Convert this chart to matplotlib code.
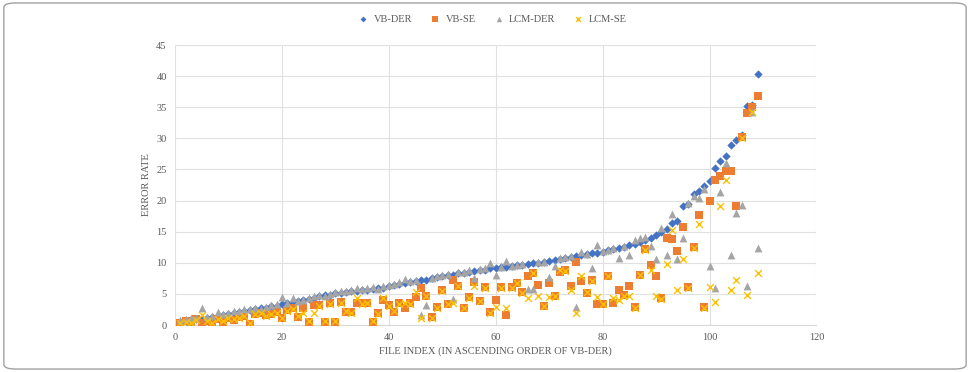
import matplotlib
matplotlib.use("Agg")
import matplotlib.pyplot as plt
from matplotlib.patches import FancyBboxPatch
import numpy as np

vb_der = [0.5, 0.6, 0.8, 0.9, 1.0, 1.2, 1.3, 1.4, 1.6, 1.8,
          1.9, 2.1, 2.2, 2.4, 2.5, 2.7, 2.8, 3.0, 3.1, 3.3,
          3.5, 3.6, 3.8, 4.0, 4.2, 4.4, 4.6, 4.8, 4.9, 5.1,
          5.2, 5.3, 5.4, 5.5, 5.6, 5.7, 5.8, 5.9, 6.0, 6.2,
          6.4, 6.6, 6.8, 6.9, 7.0, 7.2, 7.3, 7.5, 7.7, 7.8,
          8.0, 8.1, 8.3, 8.4, 8.6, 8.7, 8.8, 8.9, 9.1, 9.2,
          9.3, 9.4, 9.5, 9.6, 9.7, 9.8, 9.9, 10.0, 10.2, 10.3,
          10.5, 10.6, 10.8, 11.0, 11.1, 11.2, 11.4, 11.5, 11.6, 11.8,
          12.0, 12.2, 12.4, 12.6, 12.8, 13.0, 13.3, 13.6, 14.0, 14.5,
          15.0, 15.5, 16.4, 16.7, 19.1, 19.5, 21.0, 21.5, 22.3, 23.1,
          25.2, 26.3, 27.1, 28.9, 29.7, 30.5, 35.2, 35.4, 40.4]

vb_se = [0.3, 0.6, 0.2, 0.9, 0.4, 0.7, 0.3, 1.0, 0.5, 1.2,
         0.8, 1.3, 1.5, 0.2, 1.8, 2.0, 1.6, 1.7, 2.1, 1.1,
         2.4, 2.7, 1.3, 2.7, 0.5, 3.2, 3.2, 0.5, 3.5, 0.5,
         3.7, 2.1, 2.1, 3.5, 3.5, 3.5, 0.5, 1.9, 4.0, 3.2,
         2.1, 3.5, 2.7, 3.5, 4.5, 5.9, 4.7, 1.3, 2.9, 5.6,
         3.4, 7.2, 6.3, 2.7, 4.5, 6.9, 3.9, 6.1, 2.1, 4.0,
         6.1, 1.6, 6.1, 6.8, 5.3, 7.9, 8.4, 6.4, 3.1, 6.8,
         4.7, 8.5, 8.8, 6.3, 10.1, 7.1, 5.1, 7.2, 3.4, 3.4,
         7.9, 3.5, 5.6, 4.8, 6.3, 2.9, 8.0, 12.2, 9.6, 7.9,
         4.3, 14.0, 13.8, 11.9, 15.8, 6.1, 12.5, 17.7, 2.9, 19.9,
         23.3, 24.0, 24.8, 24.8, 19.1, 30.2, 34.1, 35.0, 36.8]

lcm_der = [0.8, 0.9, 1.2, 1.1, 2.8, 1.3, 1.5, 2.1, 1.7, 2.0,
           2.2, 2.3, 2.5, 2.6, 2.7, 2.6, 2.9, 3.2, 3.4, 4.5,
           3.6, 4.3, 3.9, 4.1, 4.4, 4.6, 4.9, 4.7, 5.0, 5.3,
           5.4, 5.5, 5.6, 5.9, 5.8, 5.9, 6.1, 5.8, 6.2, 6.4,
           6.6, 6.9, 7.4, 7.0, 7.2, 1.6, 3.2, 7.6, 7.8, 8.0,
           8.2, 4.2, 8.5, 8.6, 8.8, 7.6, 9.0, 9.2, 10.0, 8.0,
           9.4, 10.3, 9.5, 9.7, 9.8, 5.8, 5.8, 10.1, 10.2, 7.7,
           9.5, 10.8, 11.0, 11.1, 2.9, 11.7, 11.4, 9.2, 12.9, 11.9,
           12.1, 12.3, 10.8, 12.7, 11.3, 13.6, 14.0, 14.2, 12.7, 10.6,
           15.6, 11.3, 17.8, 10.6, 14.0, 19.6, 20.8, 20.4, 21.8, 9.5,
           5.9, 21.4, 26.0, 11.3, 18.0, 19.3, 6.3, 34.2, 12.4]

lcm_se = [0.4, 0.5, 0.3, 0.8, 1.6, 0.6, 0.4, 0.9, 0.6, 1.1,
          0.9, 1.2, 1.4, 0.3, 1.7, 1.9, 1.5, 1.8, 2.0, 1.2,
          2.3, 2.6, 1.4, 1.9, 0.6, 1.9, 3.1, 0.6, 3.4, 0.6,
          3.6, 2.2, 2.0, 4.3, 3.4, 3.6, 0.6, 1.8, 4.3, 3.1,
          2.2, 3.4, 3.5, 3.4, 5.3, 1.1, 4.6, 1.2, 2.8, 5.5,
          3.3, 3.5, 6.2, 2.8, 4.4, 6.2, 3.8, 6.0, 2.0, 2.9,
          6.0, 2.7, 6.0, 6.7, 5.2, 4.3, 8.3, 4.7, 3.0, 4.5,
          4.6, 8.8, 8.7, 5.6, 1.9, 7.9, 5.3, 7.1, 4.5, 3.3,
          7.8, 4.3, 4.0, 4.7, 4.7, 2.8, 8.0, 12.1, 8.8, 4.7,
          4.2, 9.8, 15.3, 5.6, 10.6, 6.0, 12.4, 16.2, 2.8, 6.1,
          3.7, 19.1, 23.3, 5.6, 7.3, 30.0, 4.8, 34.2, 8.4]

x_ticks = [0, 20, 40, 60, 80, 100, 120]
y_ticks = [0, 5, 10, 15, 20, 25, 30, 35, 40, 45]

idx = np.arange(1, len(vb_der) + 1)

plt.rcParams['font.family'] = ['Liberation Serif', 'DejaVu Serif']

fig = plt.figure(figsize=(9.70, 3.72), dpi=100)
ax = fig.add_axes([0.1804, 0.1263, 0.6613, 0.7527])

ax.scatter(idx, vb_der, marker='D', s=18, color='#4472C4', label='VB-DER', zorder=3, linewidths=0)
ax.scatter(idx, vb_se, marker='s', s=28, color='#ED7D31', label='VB-SE', zorder=4, linewidths=0)
ax.scatter(idx, lcm_der, marker='^', s=32, color='#A5A5A5', label='LCM-DER', zorder=5, linewidths=0)
ax.scatter(idx, lcm_se, marker='x', s=24, color='#FFC000', label='LCM-SE', zorder=6, linewidths=1.0)

ax.set_xlim(0, 120)
ax.set_ylim(0, 45)
ax.set_xticks(x_ticks)
ax.set_yticks(y_ticks)
ax.grid(True, color='#E0E0E0', linewidth=0.8, zorder=0)
ax.set_axisbelow(True)
for s in ['top', 'right', 'left']:
    ax.spines[s].set_visible(False)
ax.spines['bottom'].set_color('#D9D9D9')
ax.tick_params(axis='both', length=0, labelsize=7.5, labelcolor='#595959', pad=6)

ax.set_xlabel('FILE INDEX (IN ASCENDING ORDER OF VB-DER)', fontsize=7.5, color='#595959', labelpad=3)
ax.set_ylabel('ERROR RATE', fontsize=7.5, color='#595959', labelpad=4)

leg = fig.legend(loc='center', bbox_to_anchor=(0.505, 0.948), ncol=4, frameon=False,
                 fontsize=7.5, handletextpad=0.0, columnspacing=1.2, markerscale=0.7)
for t in leg.get_texts():
    t.set_color('#595959')

border = FancyBboxPatch((0.004, 0.008), 0.992, 0.984, boxstyle='round,pad=0,rounding_size=0.012',
                        transform=fig.transFigure, fill=False, edgecolor='#A0A0A0', linewidth=1.0)
fig.patches.append(border)

fig.savefig('out.png', dpi=100)
